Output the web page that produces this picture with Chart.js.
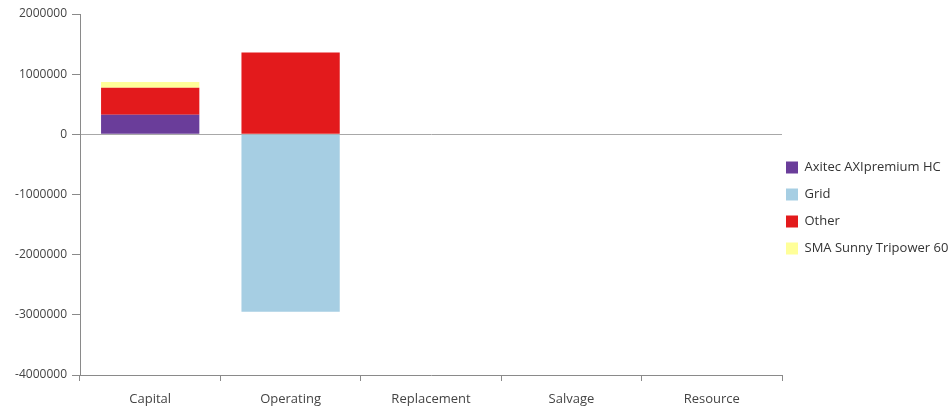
<!DOCTYPE html>
<html>
<head>
<meta charset="utf-8">
<script src="https://cdn.jsdelivr.net/npm/chart.js@4.4.1/dist/chart.umd.min.js"></script>
<style>
  html,body{margin:0;padding:0;background:#fff;}
  #wrap{width:952px;height:412px;position:relative;}
</style>
</head>
<body>
<div id="wrap"><canvas id="ch-cost"></canvas></div>
<script>
/* ---------- data ---------- */
const categories=['Capital','Operating','Replacement','Salvage','Resource'];
const axitec=[325000,null,null,null,null];
const grid=[null,-2950000,null,null,null];
const other=[450000,1360000,null,null,null];
const sma=[95000,null,null,null,null];
const yTicks=[2000000,1000000,0,-1000000,-2000000,-3000000,-4000000];

const FONT='"Open Sans", "Noto Sans", sans-serif';
const AXIS='#8a8a8a';
const LEGEND_W=170;   // space kept for the legend at the right
const LEGEND_X=786;   // x of the legend boxes
const LEGEND_DY=-5;   // nudge legend up

/* legend: fixed width, boxes a little off the plot edge */
const legendPlace={
  id:'legendPlace',
  beforeLayout(chart){
    const lg=chart.legend;
    if(lg&&!lg._fitPatched){
      const fit=lg.fit;
      lg.fit=function(){fit.call(this);this.width=LEGEND_W;};
      lg._fitPatched=true;
    }
  },
  afterLayout(chart){
    const lg=chart.legend;if(!lg)return;
    lg.left=LEGEND_X-lg.options.labels.padding;
    lg.right=chart.width;
    lg.width=lg.right-lg.left;
    lg.top+=LEGEND_DY;lg.bottom+=LEGEND_DY;
  }
};

/* ---------- chart ---------- */
new Chart(document.getElementById('ch-cost'),{
  type:'bar',
  data:{labels:categories,datasets:[
    {label:'Axitec AXIpremium HC',data:axitec,backgroundColor:'#6A3D9A'},
    {label:'Grid',data:grid,backgroundColor:'#A6CEE3'},
    {label:'Other',data:other,backgroundColor:'#E31A1C'},
    {label:'SMA Sunny Tripower 60',data:sma,backgroundColor:'#FFFF99'}
  ]},
  plugins:[legendPlace],
  options:{
    responsive:true,maintainAspectRatio:false,animation:false,
    layout:{padding:{top:14,right:0,bottom:0,left:0}},
    datasets:{bar:{categoryPercentage:0.7,barPercentage:1,borderWidth:0}},
    plugins:{
      legend:{position:'right',labels:{boxWidth:12,boxHeight:12,padding:14,color:'#333',font:{family:FONT,size:13}}},
      tooltip:{enabled:false}
    },
    scales:{
      x:{stacked:true,
        afterFit:s=>{s.height=37;},
        grid:{offset:true,drawOnChartArea:false,drawTicks:true,tickLength:6,color:AXIS},
        border:{color:AXIS,width:1},
        ticks:{color:'#444',padding:10,font:{family:FONT,size:13}}},
      y:{stacked:true,min:-4000000,max:2000000,
        afterFit:s=>{s.width=80;},
        afterBuildTicks:s=>{s.ticks=yTicks.map(v=>({value:v}));},
        grid:{color:c=>c.tick&&c.tick.value===0?'#a8a8a8':'rgba(0,0,0,0)',tickColor:AXIS,tickLength:8,drawTicks:true},
        border:{color:AXIS,width:1},
        ticks:{color:'#444',padding:5,font:{family:FONT,size:12},callback:v=>String(v)}}
    }
  }
});
</script>
</body>
</html>
